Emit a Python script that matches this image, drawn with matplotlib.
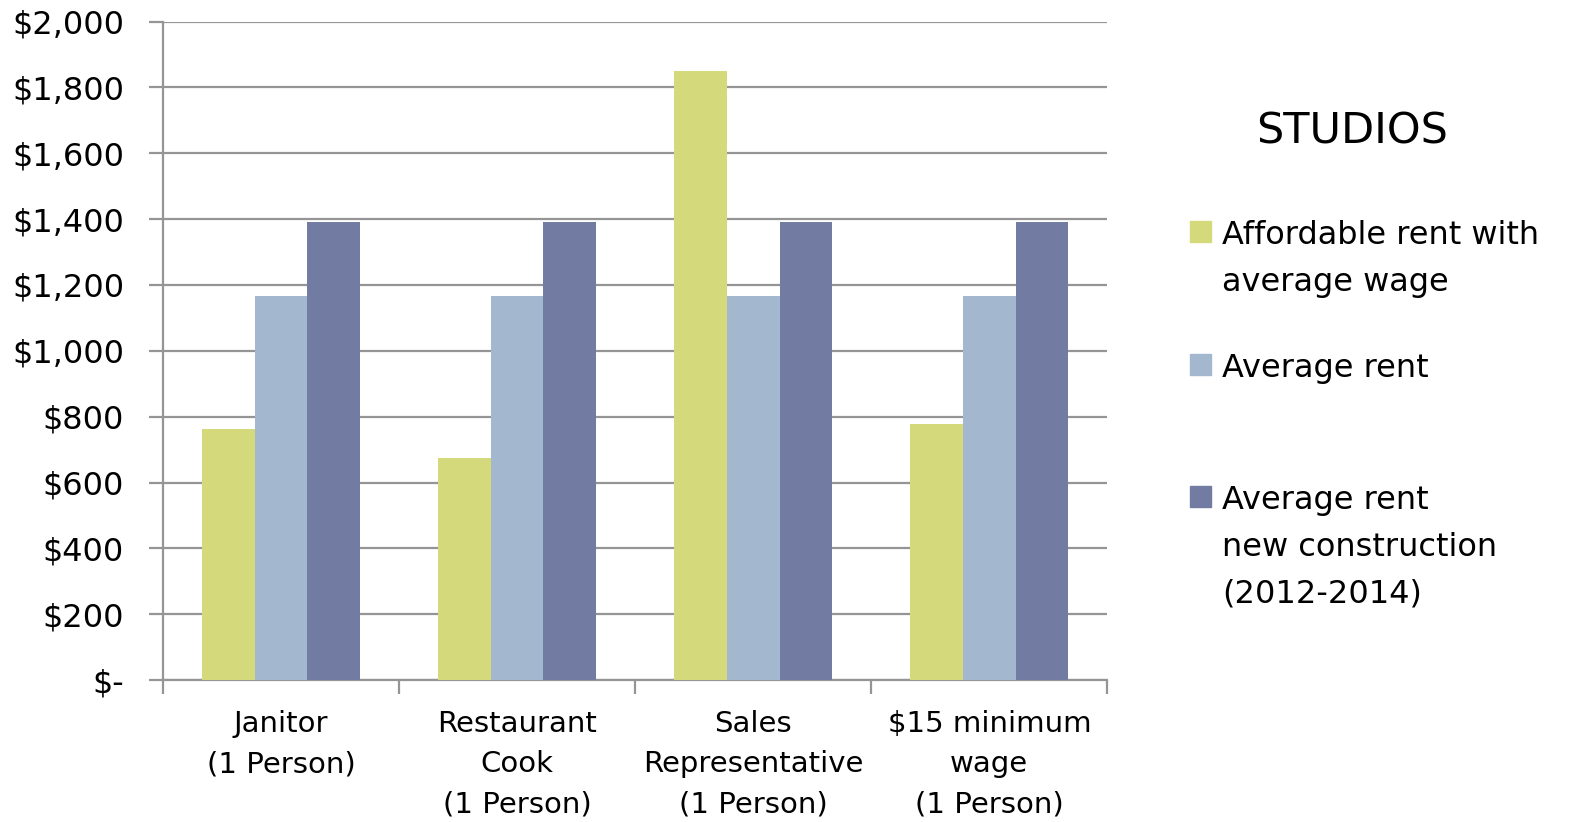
import numpy as np
import matplotlib.pyplot as plt
from matplotlib.patches import Rectangle

# data
categories = ['Janitor\n(1 Person)', 'Restaurant\nCook\n(1 Person)',
              'Sales\nRepresentative\n(1 Person)', '$15 minimum\nwage\n(1 Person)']
affordable = [763, 673, 1850, 778]
avg_rent = [1168, 1168, 1168, 1168]
new_rent = [1392, 1392, 1392, 1392]
series_names = ['Affordable rent with\naverage wage', 'Average rent',
                'Average rent\nnew construction\n(2012-2014)']
colors = ['#D4DA7C', '#A3B8CF', '#727BA2']
yticks = [0, 200, 400, 600, 800, 1000, 1200, 1400, 1600, 1800, 2000]
ytick_labels = ['$-'] + ['${:,}'.format(v) for v in yticks[1:]]

plt.rcParams['font.family'] = ['DejaVu Sans']
fs = 21

fig = plt.figure(figsize=(15.82, 8.22), dpi=100)
ax = fig.add_axes([0.103, 0.1727, 0.597, 0.801])

x = np.arange(len(categories))
w = 0.223
for i, vals in enumerate([affordable, avg_rent, new_rent]):
    ax.bar(x + (i - 1) * w, vals, w, color=colors[i], zorder=3)

ax.set_xlim(-0.5, len(categories) - 0.5)
ax.set_ylim(0, 2000)
ax.set_yticks(yticks)
ax.set_yticklabels(ytick_labels, fontsize=23)
ax.yaxis.grid(True, color='#959595', linewidth=1.6, zorder=0)
ax.tick_params(axis='y', length=10, width=1.6, color='#959595', pad=18)

ax.set_xticks(np.arange(len(categories) + 1) - 0.5)
ax.set_xticklabels([])
ax.tick_params(axis='x', length=10, width=1.6, color='#959595')
for xi, lab in zip(x, categories):
    ax.text(xi, -0.046, lab, transform=ax.get_xaxis_transform(), ha='center', va='top',
            fontsize=fs, linespacing=1.55)

for s in ['top', 'right']:
    ax.spines[s].set_visible(False)
for s in ['left', 'bottom']:
    ax.spines[s].set_color('#959595')
    ax.spines[s].set_linewidth(1.6)

# legend drawn by hand
fig.text(1352 / 1582, 1 - 132 / 822, 'STUDIOS', fontsize=31, ha='center', va='center')
first_line_y = [233, 366, 498]
for name, c, yy in zip(series_names, colors, first_line_y):
    fig.patches.append(Rectangle((1190 / 1582, 1 - (yy + 9) / 822), 21 / 1582, 21 / 822,
                                 transform=fig.transFigure, color=c))
    fig.text(1222 / 1582, 1 - (yy - 13) / 822, name, fontsize=23, ha='left', va='top',
             linespacing=1.66)

fig.savefig('out.png', dpi=100)
